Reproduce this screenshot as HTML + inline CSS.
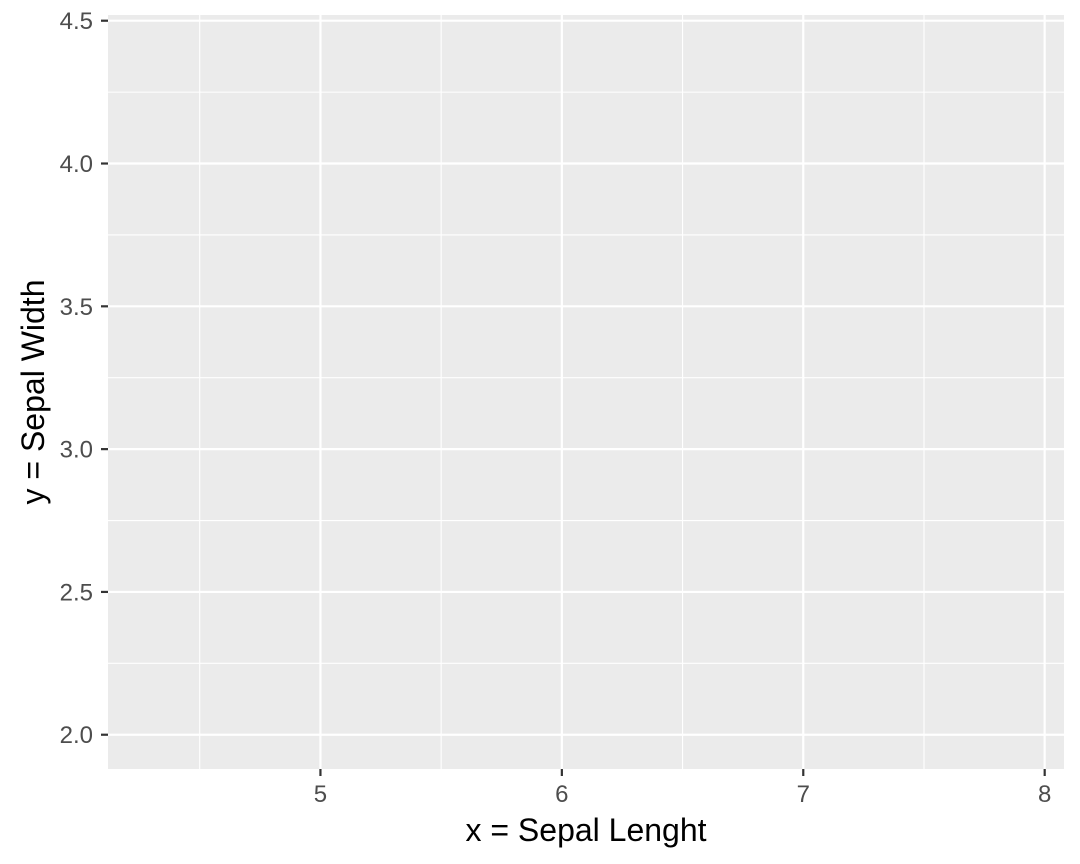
<!DOCTYPE html>
<html><head><meta charset="utf-8">
<style>
html,body{margin:0;padding:0;background:#fff;}
svg{display:block;font-family:"Liberation Sans",Arial,sans-serif;}
</style></head>
<body>
<svg id="chart" width="1080" height="864">
</svg>
<script>
const xTicks = [5, 6, 7, 8];
const xTickLabels = ["5", "6", "7", "8"];
const yTicks = [2.0, 2.5, 3.0, 3.5, 4.0, 4.5];
const yTickLabels = ["2.0", "2.5", "3.0", "3.5", "4.0", "4.5"];
const xDomain = [4.12, 8.08];
const yDomain = [1.88, 4.52];

const svg = document.getElementById('chart');
const NS = 'http://www.w3.org/2000/svg';
const L = 108, R = 1064, T = 15, B = 769;
const sx = v => L + (v - xDomain[0]) / (xDomain[1] - xDomain[0]) * (R - L);
const sy = v => B - (v - yDomain[0]) / (yDomain[1] - yDomain[0]) * (B - T);
function mk(tag, attrs, parent) {
  const e = document.createElementNS(NS, tag);
  for (const k in attrs) e.setAttribute(k, attrs[k]);
  (parent || svg).appendChild(e);
  return e;
}
const panel = mk('rect', {x: L, y: T, width: R - L, height: B - T, fill: '#ebebeb'});



const grid = mk('g', {});


for (let i = 0; i < xTicks.length; i++) {
  const m = xTicks[i] - 0.5;
  if (m > xDomain[0]) mk('line', {x1: sx(m), x2: sx(m), y1: T, y2: B, stroke: '#fff', 'stroke-width': 1.1}, grid);
}
for (let i = 0; i < yTicks.length - 1; i++) {
  const m = (yTicks[i] + yTicks[i + 1]) / 2;
  mk('line', {x1: L, x2: R, y1: sy(m), y2: sy(m), stroke: '#fff', 'stroke-width': 1.1}, grid);
}
xTicks.forEach((v, i) => {
  const x = sx(v);
  mk('line', {x1: x, x2: x, y1: T, y2: B, stroke: '#fff', 'stroke-width': 2.2}, grid);
  mk('line', {x1: x, x2: x, y1: B, y2: B + 7, stroke: '#333', 'stroke-width': 2.2});
  const t = mk('text', {x: x, y: 802, 'text-anchor': 'middle', 'font-size': 24, fill: '#4d4d4d'});
  t.textContent = xTickLabels[i];
  
  
});
yTicks.forEach((v, i) => {
  const y = sy(v);
  mk('line', {x1: L, x2: R, y1: y, y2: y, stroke: '#fff', 'stroke-width': 2.2}, grid);
  mk('line', {x1: L - 7, x2: L, y1: y, y2: y, stroke: '#333', 'stroke-width': 2.2});
  const t = mk('text', {x: 93, y: y + 8.5, 'text-anchor': 'end', 'font-size': 24, fill: '#4d4d4d'});
  t.textContent = yTickLabels[i];
  
  
});
const xt = mk('text', {x: 586, y: 841, 'text-anchor': 'middle', 'font-size': 32, fill: '#000'});
xt.textContent = 'x = Sepal Lenght';


const yt = mk('text', {x: 0, y: 0, 'text-anchor': 'middle', 'font-size': 32, fill: '#000', transform: 'translate(44,' + ((T + B) / 2) + ') rotate(-90)'});
yt.textContent = 'y = Sepal Width';


</script>
</body></html>
